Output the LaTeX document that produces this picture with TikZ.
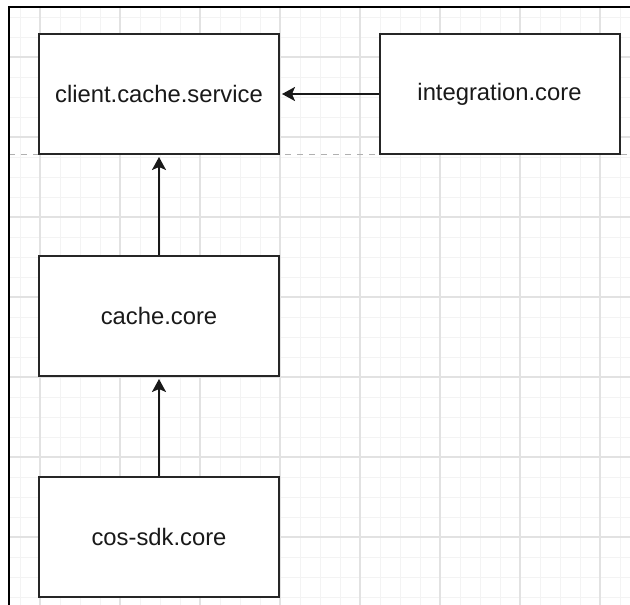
\documentclass[tikz,border=0pt]{standalone}
\usepackage{fontspec}
\setmainfont{Liberation Sans}
\usetikzlibrary{arrows.meta}
\definecolor{minorgrid}{HTML}{F3F3F3}
\definecolor{majorgrid}{HTML}{E2E2E2}
\definecolor{dashgray}{HTML}{B0B0B0}
\tikzset{
  modbox/.style={draw=black!85, line width=2pt, fill=white, minimum width=240pt, minimum height=120pt, inner sep=0pt, font=\fontsize{23.8}{28}\selectfont, text=black!90},
  dep/.style={draw=black!90, line width=2pt, shorten >=2pt, -{Stealth[length=13pt,width=14pt,inset=3pt]}},
}
\begin{document}
\begin{tikzpicture}[x=1pt,y=-1pt]
\useasboundingbox (0,0) rectangle (630,605);
\fill[white] (0,0) rectangle (630,605);
\begin{scope}
\clip (9,7) rectangle (630,605);
\foreach \x in {0,20,...,620} \draw[minorgrid, line width=1pt] (\x,0) -- (\x,605);
\foreach \y in {17,37,...,600} \draw[minorgrid, line width=1pt] (0,\y) -- (630,\y);
\foreach \x in {40,120,...,620} \draw[majorgrid, line width=1.2pt] (\x,0) -- (\x,605);
\foreach \y in {57,137,...,600} \draw[majorgrid, line width=1.2pt] (0,\y) -- (630,\y);
\draw[dashgray, line width=1pt, dash pattern=on 6pt off 6pt] (9,154) -- (630,154);
\end{scope}
\draw[black, line width=2pt] (9,605) -- (9,7) -- (630,7);
\node[modbox] (ccs) at (159,94) {client.cache.service};
\node[modbox] (ic) at (499.5,94) {integration.core};
\node[modbox] (cc) at (159,316) {cache.core};
\node[modbox] (cos) at (159,536.5) {cos-sdk.core};
\draw[dep] (ic.west) -- (ccs.east);
\draw[dep] (cc.north) -- (ccs.south);
\draw[dep] (cos.north) -- (cc.south);
\end{tikzpicture}
\end{document}
